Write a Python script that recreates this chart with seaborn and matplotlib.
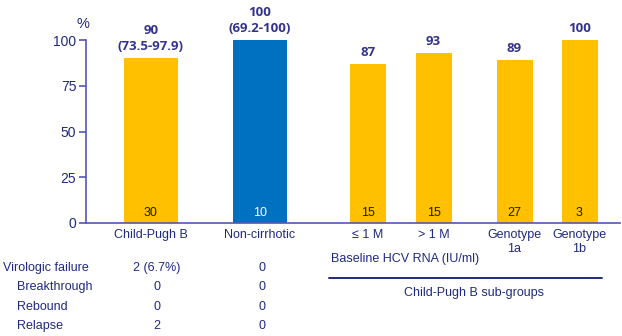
import matplotlib
matplotlib.use("Agg")
import matplotlib.pyplot as plt
import pandas as pd
import seaborn as sns

# --- data ---------------------------------------------------------------
groups = ["Child-Pugh B", "Non-cirrhotic", "\u2264 1 M", "> 1 M", "Genotype\n1a", "Genotype\n1b"]
svr12 = [90, 100, 87, 93, 89, 100]
ci_text = ["(73.5-97.9)", "(69.2-100)", "", "", "", ""]
n_patients = [30, 10, 15, 15, 27, 3]
is_subgroup = [False, False, True, True, True, True]

table_rows = ["Virologic failure", "Breakthrough", "Rebound", "Relapse"]
table_child_pugh = ["2 (6.7%)", "0", "0", "2"]
table_non_cirrhotic = ["0", "0", "0", "0"]

# --- layout (horizontal axis laid out in pixel-like units) --------------
W, H = 622, 336
x_pos = [151, 260, 368, 433.5, 514.5, 579.5]
bar_colors = ["#FFC000", "#0070C0", "#FFC000", "#FFC000", "#FFC000", "#FFC000"]
n_colors = ["#1A1A1A", "#FFFFFF", "#1A1A1A", "#1A1A1A", "#1A1A1A", "#1A1A1A"]

NAVY = "#1F2A7F"
LABEL = "#33338F"
AXIS = "#5555B5"
FONT = "Liberation Sans"

sns.set_theme(style="white")
plt.rcParams["font.family"] = [FONT, "DejaVu Sans"]

df = pd.DataFrame({"group": groups, "x": x_pos, "svr": svr12,
                   "ci": ci_text, "n": n_patients, "sub": is_subgroup,
                   "color": bar_colors})

fig = plt.figure(figsize=(W / 100, H / 100), dpi=100)
ax_left, ax_right, ax_top, ax_bottom = 86, 620, 40, 223
ax = fig.add_axes([ax_left / W, 1 - ax_bottom / H,
                   (ax_right - ax_left) / W, (ax_bottom - ax_top) / H])

main = df[~df["sub"]]
sub = df[df["sub"]]
sns.barplot(data=main, x="x", y="svr", hue="group", palette=list(main["color"]),
            native_scale=True, width=54 / 109, legend=False, ax=ax,
            saturation=1, linewidth=0)
sns.barplot(data=sub, x="x", y="svr", hue="group", palette=list(sub["color"]),
            native_scale=True, width=36 / 65, legend=False, ax=ax,
            saturation=1, linewidth=0)

ax.set_xlim(ax_left, ax_right)
ax.set_ylim(0, 100)
for s in ["top", "right"]:
    ax.spines[s].set_visible(False)
for s in ["left", "bottom"]:
    ax.spines[s].set_color(AXIS)
    ax.spines[s].set_linewidth(1.2)
ax.set_yticks([0, 25, 50, 75, 100])
ax.tick_params(axis="y", which="both", left=True, length=5, width=1.2,
               color=AXIS, labelcolor=NAVY, labelsize=10, pad=2)
ax.set_xticks(x_pos)
ax.set_xticklabels(groups, color=NAVY, fontsize=9, linespacing=1.2)
ax.tick_params(axis="x", length=0, pad=4.5)
ax.set_xlabel("")
ax.set_ylabel("")
ax.grid(False)

px_per_unit = (ax_bottom - ax_top) / 100.0

# value labels above bars, n inside bars at their base
for xp, v, ci, n, nc in zip(x_pos, svr12, ci_text, n_patients, n_colors):
    label = f"{v}\n{ci}" if ci else f"{v}"
    ax.text(xp, v + 5 / px_per_unit, label, ha="center", va="bottom",
            color=LABEL, fontsize=9.5, fontweight="bold",
            family=["Open Sans", "DejaVu Sans"], linespacing=1.3, clip_on=False)
    ax.text(xp, 10 / px_per_unit, f"{n}", ha="center", va="center",
            color=nc, fontsize=9, clip_on=False)

# figure-level helpers in pixel coordinates
def ftext(x, y, s, **kw):
    kw.setdefault("color", NAVY)
    kw.setdefault("fontsize", 9)
    fig.text(x / W, 1 - y / H, s, **kw)

ftext(83, 24, "%", ha="center", va="center", fontsize=10.5)

# subgroup annotations
ftext(405, 259, "Baseline HCV RNA (IU/ml)", ha="center", va="center")
fig.add_artist(plt.Line2D([329 / W, 602 / W], [1 - 278 / H, 1 - 278 / H],
                          color=NAVY, linewidth=1.4))
ftext(474.5, 293, "Child-Pugh B sub-groups", ha="center", va="center")

# virologic failure table
row_y = [268, 287, 307, 326]
row_x = [3, 17, 17, 17]
for name, yy, xx, a, b in zip(table_rows, row_y, row_x,
                              table_child_pugh, table_non_cirrhotic):
    ftext(xx, yy, name, ha="left", va="center")
    ftext(156.5, yy, a, ha="center", va="center")
    ftext(262, yy, b, ha="center", va="center")

fig.savefig("out.png", dpi=100, facecolor="white")
